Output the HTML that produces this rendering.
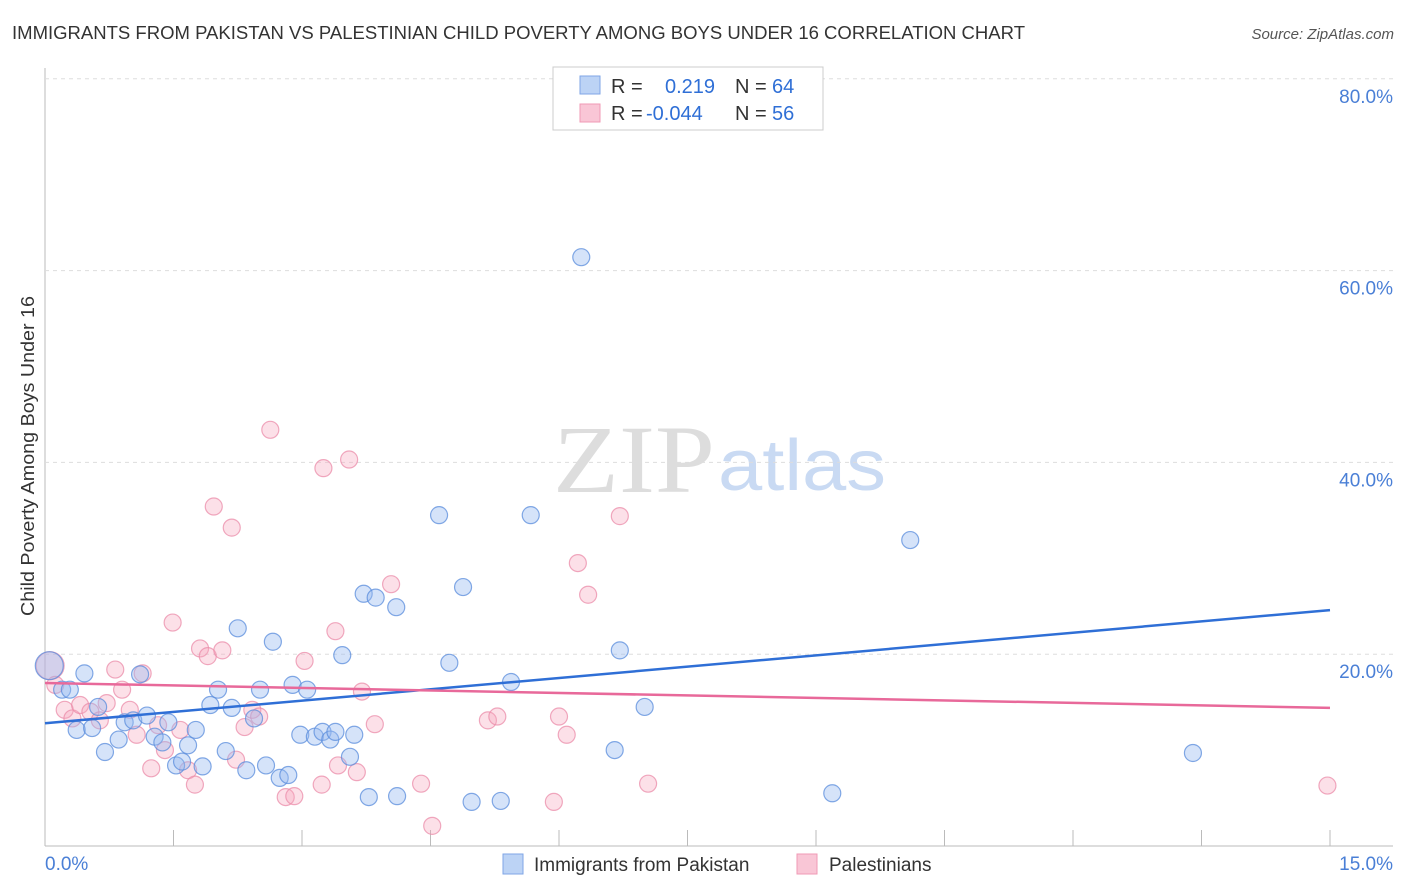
<!DOCTYPE html>
<html><head><meta charset="utf-8"><style>
body{margin:0;background:#fff;font-family:"Liberation Sans",sans-serif}
#c{position:absolute;left:0;top:0}
</style></head><body>
<svg id="c" width="1406" height="892" xmlns="http://www.w3.org/2000/svg">
<text x="12" y="39" font-size="18" fill="#333" textLength="1013" lengthAdjust="spacingAndGlyphs">IMMIGRANTS FROM PAKISTAN VS PALESTINIAN CHILD POVERTY AMONG BOYS UNDER 16 CORRELATION CHART</text>
<text x="1394" y="39" font-size="15" fill="#555" font-style="italic" text-anchor="end">Source: ZipAtlas.com</text>
<text x="34" y="456" font-size="18" fill="#333" text-anchor="middle" textLength="320" lengthAdjust="spacingAndGlyphs" transform="rotate(-90 34 456)">Child Poverty Among Boys Under 16</text>
<text x="553" y="492" font-size="96" fill="#ddd" font-family="Liberation Serif,serif" textLength="162" lengthAdjust="spacingAndGlyphs">ZIP</text>
<text x="718" y="490" font-size="72" fill="#c9daf3" textLength="168" lengthAdjust="spacingAndGlyphs">atlas</text>
<g id="grid"></g><g id="pts"></g><g id="lines"></g>
<g>
<rect x="553" y="67" width="270" height="63" fill="#fff" stroke="#ccc"/>
<rect x="580" y="76" width="20" height="18" fill="#bcd3f5" stroke="#7fa6e6"/>
<rect x="580" y="104" width="20" height="18" fill="#f9c6d6" stroke="#f09ab5"/>
<text x="611" y="93" font-size="20" fill="#333">R =</text><text x="665" y="93" font-size="20" fill="#2f6fd6">0.219</text>
<text x="735" y="93" font-size="20" fill="#333">N =</text><text x="772" y="93" font-size="20" fill="#2f6fd6">64</text>
<text x="611" y="120" font-size="20" fill="#333">R =</text><text x="646" y="120" font-size="20" fill="#2f6fd6">-0.044</text>
<text x="735" y="120" font-size="20" fill="#333">N =</text><text x="772" y="120" font-size="20" fill="#2f6fd6">56</text>
</g>
<g>
<rect x="503" y="854" width="20" height="20" fill="#bcd3f5" stroke="#7fa6e6"/>
<text x="534" y="871" font-size="19" fill="#333">Immigrants from Pakistan</text>
<rect x="797" y="854" width="20" height="20" fill="#f9c6d6" stroke="#f09ab5"/>
<text x="829" y="871" font-size="19" fill="#333">Palestinians</text>
</g>
</svg>
<script>
const xTicks=[0,1.5,3,4.5,6,7.5,9,10.5,12,13.5,15];
const yTicks=[20,40,60,80];
const bx=[0.05,0.20,0.29,0.46,0.37,0.55,0.62,0.70,0.86,0.93,1.03,1.11,1.19,1.28,1.37,1.44,1.53,1.60,1.67,1.76,1.84,1.93,2.02,2.11,2.18,2.25,2.35,2.44,2.51,2.58,2.66,2.74,2.84,2.89,2.98,3.06,3.15,3.24,3.33,3.39,3.47,3.56,3.61,3.72,3.78,3.86,4.10,4.11,4.60,4.72,4.88,4.98,5.32,5.44,5.67,6.26,6.65,6.71,7.00,9.19,10.10,13.40];
const by=[18.8,16.3,16.3,18.0,12.1,12.3,14.5,9.8,11.1,12.9,13.1,17.9,13.6,11.4,10.8,12.9,8.4,8.8,10.5,12.1,8.3,14.7,16.3,9.9,14.4,22.7,7.9,13.3,16.3,8.4,21.3,7.1,7.4,16.8,11.6,16.3,11.4,11.9,11.1,11.9,19.9,9.3,11.6,26.3,5.1,25.9,24.9,5.2,34.5,19.1,27.0,4.6,4.7,17.1,34.5,61.4,10.0,20.4,14.5,5.5,31.9,9.7];
const px=[0.06,0.12,0.23,0.32,0.41,0.53,0.64,0.72,0.82,0.90,0.99,1.07,1.14,1.24,1.32,1.40,1.49,1.58,1.67,1.75,1.81,1.90,1.97,2.07,2.18,2.23,2.33,2.42,2.50,2.63,2.81,2.91,3.03,3.23,3.25,3.39,3.42,3.55,3.64,3.70,3.85,4.04,4.39,4.52,5.17,5.28,5.94,6.00,6.09,6.22,6.34,6.71,7.04,14.97];
const py=[18.8,16.8,14.2,13.3,14.7,14.0,13.1,14.9,18.4,16.3,14.2,11.6,18.0,8.1,12.6,10.0,23.3,12.1,7.9,6.4,20.6,19.8,35.4,20.4,33.2,9.0,12.4,14.2,13.5,43.4,5.1,5.2,19.3,6.4,39.4,22.4,8.4,40.3,7.7,16.1,12.7,27.3,6.5,2.1,13.1,13.5,4.6,13.5,11.6,29.5,26.2,34.4,6.5,6.3];
const blueTrend=[12.8,24.6];
const pinkTrend=[17.0,14.4];
const X=v=>45+v/15*1285, Y=v=>846-v*9.59;
const NS='http://www.w3.org/2000/svg';
function mk(t,a,p){const e=document.createElementNS(NS,t);for(const k in a)e.setAttribute(k,a[k]);p.appendChild(e);return e;}
const g=document.getElementById('grid');
let e=mk('line',{x1:45,y1:68,x2:45,y2:846,stroke:'#bbb'},g);


e=mk('line',{x1:45,y1:846,x2:1393,y2:846,stroke:'#bbb'},g);


yTicks.forEach(t=>{const l=mk('line',{x1:45,y1:Y(t),x2:1393,y2:Y(t),stroke:'#ddd','stroke-dasharray':'4 4'},g);


const tx=mk('text',{x:1393,y:Y(t)+24,'font-size':19,fill:'#4a7fd6','text-anchor':'end'},g);tx.textContent=t.toFixed(1)+'%';

});
xTicks.forEach((t,i)=>{if(i>0){const l=mk('line',{x1:X(t),y1:830,x2:X(t),y2:846,stroke:'#bbb'},g);

}});
[[0,'start',45],[15,'end',1393]].forEach(([t,a,xx])=>{const tx=mk('text',{x:xx,y:870,'font-size':19,fill:'#4a7fd6','text-anchor':a},g);tx.textContent=t.toFixed(1)+'%';

});
const pg=document.getElementById('pts');
px.forEach((v,i)=>{const c=mk('circle',{cx:X(v),cy:Y(py[i]),r:i==0?14:8.5,fill:'rgba(245,165,190,0.35)',stroke:'rgba(235,140,170,0.75)','stroke-width':1.2},pg);

});
bx.forEach((v,i)=>{const c=mk('circle',{cx:X(v),cy:Y(by[i]),r:i==0?14:8.5,fill:'rgba(150,185,240,0.4)',stroke:'rgba(90,140,220,0.75)','stroke-width':1.2},pg);

});
const lg=document.getElementById('lines');
e=mk('line',{x1:X(0),y1:Y(blueTrend[0]),x2:X(15),y2:Y(blueTrend[1]),stroke:'#2f6fd6','stroke-width':2.5},lg);


e=mk('line',{x1:X(0),y1:Y(pinkTrend[0]),x2:X(15),y2:Y(pinkTrend[1]),stroke:'#e8699a','stroke-width':2.5},lg);


</script>
</body></html>
